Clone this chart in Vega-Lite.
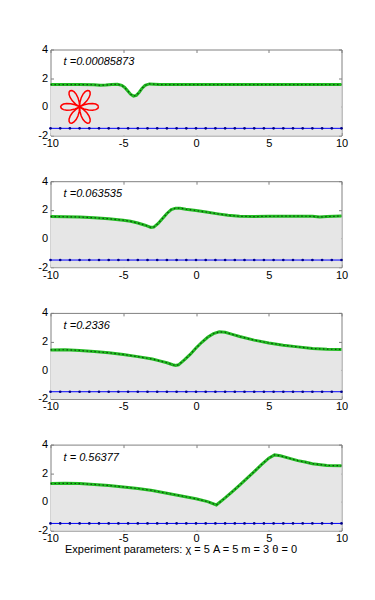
{
  "$schema": "https://vega.github.io/schema/vega-lite/v6.json",
  "background": "white",
  "padding": {"left": 36.5, "top": 42.5, "right": 0, "bottom": 0},
  "config": {
    "view": {"stroke": "#808080", "strokeWidth": 1},
    "axis": {"labelFont": "Liberation Sans", "labelFontSize": 11, "labelColor": "#000000", "tickColor": "#808080", "domain": false, "grid": false, "labelFlush": false, "labelOverlap": false, "tickSize": -3, "labelExpr": "toString(datum.value)"},
    "text": {"font": "Liberation Sans"}
  },
  "datasets": {
    "surf": [
      {"p": 1, "x": -10, "y": 1.55}, {"p": 1, "x": -8, "y": 1.55}, {"p": 1, "x": -7, "y": 1.54}, {"p": 1, "x": -6.6, "y": 1.5}, {"p": 1, "x": -6.2, "y": 1.52}, {"p": 1, "x": -5.8, "y": 1.56}, {"p": 1, "x": -5.4, "y": 1.57}, {"p": 1, "x": -5.1, "y": 1.5}, {"p": 1, "x": -4.9, "y": 1.35}, {"p": 1, "x": -4.7, "y": 1.12}, {"p": 1, "x": -4.5, "y": 0.88}, {"p": 1, "x": -4.3, "y": 0.75}, {"p": 1, "x": -4.1, "y": 0.8}, {"p": 1, "x": -3.9, "y": 1.02}, {"p": 1, "x": -3.7, "y": 1.3}, {"p": 1, "x": -3.5, "y": 1.5}, {"p": 1, "x": -3.2, "y": 1.6}, {"p": 1, "x": -2.9, "y": 1.58}, {"p": 1, "x": -2.5, "y": 1.55}, {"p": 1, "x": 0, "y": 1.55}, {"p": 1, "x": 5, "y": 1.55}, {"p": 1, "x": 10, "y": 1.55},
      {"p": 2, "x": -10, "y": 1.53}, {"p": 2, "x": -9, "y": 1.52}, {"p": 2, "x": -8, "y": 1.5}, {"p": 2, "x": -7, "y": 1.45}, {"p": 2, "x": -6, "y": 1.38}, {"p": 2, "x": -5, "y": 1.28}, {"p": 2, "x": -4.5, "y": 1.2}, {"p": 2, "x": -4, "y": 1.08}, {"p": 2, "x": -3.5, "y": 0.93}, {"p": 2, "x": -3.1, "y": 0.78}, {"p": 2, "x": -2.9, "y": 0.8}, {"p": 2, "x": -2.6, "y": 1.05}, {"p": 2, "x": -2.3, "y": 1.4}, {"p": 2, "x": -2.0, "y": 1.75}, {"p": 2, "x": -1.7, "y": 2.02}, {"p": 2, "x": -1.4, "y": 2.12}, {"p": 2, "x": -1.1, "y": 2.12}, {"p": 2, "x": -0.7, "y": 2.05}, {"p": 2, "x": 0, "y": 1.95}, {"p": 2, "x": 0.7, "y": 1.85}, {"p": 2, "x": 1.5, "y": 1.72}, {"p": 2, "x": 2.2, "y": 1.62}, {"p": 2, "x": 3, "y": 1.55}, {"p": 2, "x": 4, "y": 1.53}, {"p": 2, "x": 5, "y": 1.55}, {"p": 2, "x": 6, "y": 1.56}, {"p": 2, "x": 7, "y": 1.56}, {"p": 2, "x": 8, "y": 1.55}, {"p": 2, "x": 8.5, "y": 1.5}, {"p": 2, "x": 9, "y": 1.53}, {"p": 2, "x": 10, "y": 1.57},
      {"p": 3, "x": -10, "y": 1.42}, {"p": 3, "x": -9, "y": 1.43}, {"p": 3, "x": -8, "y": 1.38}, {"p": 3, "x": -7, "y": 1.3}, {"p": 3, "x": -6, "y": 1.22}, {"p": 3, "x": -5, "y": 1.1}, {"p": 3, "x": -4, "y": 0.95}, {"p": 3, "x": -3, "y": 0.78}, {"p": 3, "x": -2.5, "y": 0.65}, {"p": 3, "x": -2, "y": 0.52}, {"p": 3, "x": -1.6, "y": 0.38}, {"p": 3, "x": -1.4, "y": 0.33}, {"p": 3, "x": -1.2, "y": 0.38}, {"p": 3, "x": -0.8, "y": 0.72}, {"p": 3, "x": -0.4, "y": 1.1}, {"p": 3, "x": 0, "y": 1.55}, {"p": 3, "x": 0.4, "y": 1.95}, {"p": 3, "x": 0.8, "y": 2.3}, {"p": 3, "x": 1.2, "y": 2.55}, {"p": 3, "x": 1.6, "y": 2.68}, {"p": 3, "x": 2.0, "y": 2.65}, {"p": 3, "x": 2.5, "y": 2.5}, {"p": 3, "x": 3, "y": 2.35}, {"p": 3, "x": 4, "y": 2.1}, {"p": 3, "x": 5, "y": 1.9}, {"p": 3, "x": 6, "y": 1.75}, {"p": 3, "x": 7, "y": 1.63}, {"p": 3, "x": 8, "y": 1.52}, {"p": 3, "x": 9, "y": 1.47}, {"p": 3, "x": 10, "y": 1.45},
      {"p": 4, "x": -10, "y": 1.28}, {"p": 4, "x": -9, "y": 1.3}, {"p": 4, "x": -8, "y": 1.28}, {"p": 4, "x": -7, "y": 1.22}, {"p": 4, "x": -6, "y": 1.15}, {"p": 4, "x": -5, "y": 1.05}, {"p": 4, "x": -4, "y": 0.94}, {"p": 4, "x": -3, "y": 0.8}, {"p": 4, "x": -2, "y": 0.61}, {"p": 4, "x": -1, "y": 0.42}, {"p": 4, "x": 0, "y": 0.22}, {"p": 4, "x": 0.8, "y": 0.02}, {"p": 4, "x": 1.4, "y": -0.21}, {"p": 4, "x": 2, "y": 0.28}, {"p": 4, "x": 2.5, "y": 0.72}, {"p": 4, "x": 3, "y": 1.18}, {"p": 4, "x": 3.5, "y": 1.64}, {"p": 4, "x": 4, "y": 2.12}, {"p": 4, "x": 4.5, "y": 2.6}, {"p": 4, "x": 5, "y": 3.05}, {"p": 4, "x": 5.4, "y": 3.28}, {"p": 4, "x": 5.8, "y": 3.22}, {"p": 4, "x": 6.5, "y": 3.02}, {"p": 4, "x": 7, "y": 2.88}, {"p": 4, "x": 7.5, "y": 2.78}, {"p": 4, "x": 8, "y": 2.67}, {"p": 4, "x": 9, "y": 2.55}, {"p": 4, "x": 10, "y": 2.52}
    ],
    "bed": [
      {"x": -10, "y": -1.5}, {"x": -9.333, "y": -1.5}, {"x": -8.667, "y": -1.5}, {"x": -8, "y": -1.5}, {"x": -7.333, "y": -1.5}, {"x": -6.667, "y": -1.5}, {"x": -6, "y": -1.5}, {"x": -5.333, "y": -1.5}, {"x": -4.667, "y": -1.5}, {"x": -4, "y": -1.5}, {"x": -3.333, "y": -1.5}, {"x": -2.667, "y": -1.5}, {"x": -2, "y": -1.5}, {"x": -1.333, "y": -1.5}, {"x": -0.667, "y": -1.5}, {"x": 0, "y": -1.5}, {"x": 0.667, "y": -1.5}, {"x": 1.333, "y": -1.5}, {"x": 2, "y": -1.5}, {"x": 2.667, "y": -1.5}, {"x": 3.333, "y": -1.5}, {"x": 4, "y": -1.5}, {"x": 4.667, "y": -1.5}, {"x": 5.333, "y": -1.5}, {"x": 6, "y": -1.5}, {"x": 6.667, "y": -1.5}, {"x": 7.333, "y": -1.5}, {"x": 8, "y": -1.5}, {"x": 8.667, "y": -1.5}, {"x": 9.333, "y": -1.5}, {"x": 10, "y": -1.5}
    ],
    "flower": [
      {"i": 0, "x": -6.7, "y": 0}, {"i": 1, "x": -6.749, "y": 0.11}, {"i": 2, "x": -6.891, "y": 0.195}, {"i": 3, "x": -7.112, "y": 0.238}, {"i": 4, "x": -7.389, "y": 0.222}, {"i": 5, "x": -7.695, "y": 0.142}, {"i": 6, "x": -8, "y": 0},
      {"i": 7, "x": -7.725, "y": 0.193}, {"i": 8, "x": -7.502, "y": 0.418}, {"i": 9, "x": -7.35, "y": 0.65}, {"i": 10, "x": -7.276, "y": 0.863}, {"i": 11, "x": -7.28, "y": 1.029}, {"i": 12, "x": -7.35, "y": 1.126}, {"i": 13, "x": -7.469, "y": 1.138}, {"i": 14, "x": -7.615, "y": 1.058}, {"i": 15, "x": -7.762, "y": 0.888}, {"i": 16, "x": -7.887, "y": 0.64}, {"i": 17, "x": -7.971, "y": 0.335}, {"i": 18, "x": -8, "y": 0},
      {"i": 19, "x": -8.029, "y": 0.335}, {"i": 20, "x": -8.113, "y": 0.64}, {"i": 21, "x": -8.238, "y": 0.888}, {"i": 22, "x": -8.385, "y": 1.058}, {"i": 23, "x": -8.531, "y": 1.138}, {"i": 24, "x": -8.65, "y": 1.126}, {"i": 25, "x": -8.72, "y": 1.029}, {"i": 26, "x": -8.724, "y": 0.863}, {"i": 27, "x": -8.65, "y": 0.65}, {"i": 28, "x": -8.498, "y": 0.418}, {"i": 29, "x": -8.275, "y": 0.193}, {"i": 30, "x": -8, "y": 0},
      {"i": 31, "x": -8.305, "y": 0.142}, {"i": 32, "x": -8.611, "y": 0.222}, {"i": 33, "x": -8.888, "y": 0.238}, {"i": 34, "x": -9.109, "y": 0.195}, {"i": 35, "x": -9.251, "y": 0.11}, {"i": 36, "x": -9.3, "y": 0},
      {"i": 37, "x": -9.251, "y": -0.11}, {"i": 38, "x": -9.109, "y": -0.195}, {"i": 39, "x": -8.888, "y": -0.238}, {"i": 40, "x": -8.611, "y": -0.222}, {"i": 41, "x": -8.305, "y": -0.142}, {"i": 42, "x": -8, "y": 0},
      {"i": 43, "x": -8.275, "y": -0.193}, {"i": 44, "x": -8.498, "y": -0.418}, {"i": 45, "x": -8.65, "y": -0.65}, {"i": 46, "x": -8.724, "y": -0.863}, {"i": 47, "x": -8.72, "y": -1.029}, {"i": 48, "x": -8.65, "y": -1.126}, {"i": 49, "x": -8.531, "y": -1.138}, {"i": 50, "x": -8.385, "y": -1.058}, {"i": 51, "x": -8.238, "y": -0.888}, {"i": 52, "x": -8.113, "y": -0.64}, {"i": 53, "x": -8.029, "y": -0.335}, {"i": 54, "x": -8, "y": 0},
      {"i": 55, "x": -7.971, "y": -0.335}, {"i": 56, "x": -7.887, "y": -0.64}, {"i": 57, "x": -7.762, "y": -0.888}, {"i": 58, "x": -7.615, "y": -1.058}, {"i": 59, "x": -7.469, "y": -1.138}, {"i": 60, "x": -7.35, "y": -1.126}, {"i": 61, "x": -7.28, "y": -1.029}, {"i": 62, "x": -7.276, "y": -0.863}, {"i": 63, "x": -7.35, "y": -0.65}, {"i": 64, "x": -7.502, "y": -0.418}, {"i": 65, "x": -7.725, "y": -0.193}, {"i": 66, "x": -8, "y": 0},
      {"i": 67, "x": -7.695, "y": -0.142}, {"i": 68, "x": -7.389, "y": -0.222}, {"i": 69, "x": -7.112, "y": -0.238}, {"i": 70, "x": -6.891, "y": -0.195}, {"i": 71, "x": -6.749, "y": -0.11}, {"i": 72, "x": -6.7, "y": 0}
    ],
    "labels": [
      {"p": 1, "x": -9.1, "y": 3.1, "t": "t =0.00085873"},
      {"p": 2, "x": -9.1, "y": 3.1, "t": "t =0.063535"},
      {"p": 3, "x": -9.1, "y": 3.1, "t": "t =0.2336"},
      {"p": 4, "x": -9.1, "y": 3.1, "t": "t = 0.56377"}
    ]
  },
  "spacing": 45.7,
  "bounds": "flush",
  "vconcat": [
    {
      "width": 291, "height": 86,
      "resolve": {"axis": {"x": "independent", "y": "independent"}},
      "layer": [
        {"data": {"name": "surf"}, "transform": [{"filter": "datum.p == 1"}], "mark": {"type": "area", "color": "#e6e6e6"},
         "encoding": {"x": {"field": "x", "type": "quantitative", "scale": {"domain": [-10, 10], "nice": false}, "axis": {"orient": "bottom", "values": [-10, -5, 0, 5, 10], "labelPadding": 5, "title": null}},
                      "y": {"field": "y", "type": "quantitative", "scale": {"domain": [-2, 4], "nice": false, "zero": false}, "axis": {"orient": "left", "values": [-2, 0, 2, 4], "labelPadding": 6, "title": null}},
                      "y2": {"datum": -2}}},
        {"data": {"name": "bed"}, "mark": {"type": "line", "color": "#0000ff", "strokeWidth": 1},
         "encoding": {"x": {"field": "x", "type": "quantitative", "axis": {"orient": "top", "values": [-10, -5, 0, 5, 10], "labels": false, "title": null}},
                      "y": {"field": "y", "type": "quantitative", "axis": {"orient": "right", "values": [-2, 0, 2, 4], "labels": false, "title": null}}}},
        {"data": {"name": "bed"}, "mark": {"type": "point", "filled": true, "color": "#00008b", "size": 7, "opacity": 1},
         "encoding": {"x": {"field": "x", "type": "quantitative", "axis": null}, "y": {"field": "y", "type": "quantitative", "axis": null}}},
        {"data": {"name": "surf"}, "transform": [{"filter": "datum.p == 1"}], "mark": {"type": "line", "color": "#22bb22", "strokeWidth": 3},
         "encoding": {"x": {"field": "x", "type": "quantitative", "axis": null}, "y": {"field": "y", "type": "quantitative", "axis": null}}},
        {"data": {"name": "surf"}, "transform": [{"filter": "datum.p == 1"}], "mark": {"type": "line", "color": "#000000", "strokeWidth": 1.2, "strokeDash": [1.5, 2.5], "opacity": 0.6},
         "encoding": {"x": {"field": "x", "type": "quantitative", "axis": null}, "y": {"field": "y", "type": "quantitative", "axis": null}}},
        {"data": {"name": "flower"}, "mark": {"type": "line", "color": "#ff0000", "strokeWidth": 1.5},
         "encoding": {"x": {"field": "x", "type": "quantitative", "axis": null}, "y": {"field": "y", "type": "quantitative", "axis": null}, "order": {"field": "i", "type": "quantitative"}}},
        {"data": {"name": "labels"}, "transform": [{"filter": "datum.p == 1"}], "mark": {"type": "text", "align": "left", "baseline": "middle", "fontSize": 11, "fontStyle": "italic", "color": "#000000"},
         "encoding": {"x": {"field": "x", "type": "quantitative", "axis": null}, "y": {"field": "y", "type": "quantitative", "axis": null}, "text": {"field": "t"}}}
      ]
    },
    {
      "width": 291, "height": 86,
      "resolve": {"axis": {"x": "independent", "y": "independent"}},
      "layer": [
        {"data": {"name": "surf"}, "transform": [{"filter": "datum.p == 2"}], "mark": {"type": "area", "color": "#e6e6e6"},
         "encoding": {"x": {"field": "x", "type": "quantitative", "scale": {"domain": [-10, 10], "nice": false}, "axis": {"orient": "bottom", "values": [-10, -5, 0, 5, 10], "labelPadding": 5, "title": null}},
                      "y": {"field": "y", "type": "quantitative", "scale": {"domain": [-2, 4], "nice": false, "zero": false}, "axis": {"orient": "left", "values": [-2, 0, 2, 4], "labelPadding": 6, "title": null}},
                      "y2": {"datum": -2}}},
        {"data": {"name": "bed"}, "mark": {"type": "line", "color": "#0000ff", "strokeWidth": 1},
         "encoding": {"x": {"field": "x", "type": "quantitative", "axis": {"orient": "top", "values": [-10, -5, 0, 5, 10], "labels": false, "title": null}},
                      "y": {"field": "y", "type": "quantitative", "axis": {"orient": "right", "values": [-2, 0, 2, 4], "labels": false, "title": null}}}},
        {"data": {"name": "bed"}, "mark": {"type": "point", "filled": true, "color": "#00008b", "size": 7, "opacity": 1},
         "encoding": {"x": {"field": "x", "type": "quantitative", "axis": null}, "y": {"field": "y", "type": "quantitative", "axis": null}}},
        {"data": {"name": "surf"}, "transform": [{"filter": "datum.p == 2"}], "mark": {"type": "line", "color": "#22bb22", "strokeWidth": 3},
         "encoding": {"x": {"field": "x", "type": "quantitative", "axis": null}, "y": {"field": "y", "type": "quantitative", "axis": null}}},
        {"data": {"name": "surf"}, "transform": [{"filter": "datum.p == 2"}], "mark": {"type": "line", "color": "#000000", "strokeWidth": 1.2, "strokeDash": [1.5, 2.5], "opacity": 0.6},
         "encoding": {"x": {"field": "x", "type": "quantitative", "axis": null}, "y": {"field": "y", "type": "quantitative", "axis": null}}},
        {"data": {"name": "labels"}, "transform": [{"filter": "datum.p == 2"}], "mark": {"type": "text", "align": "left", "baseline": "middle", "fontSize": 11, "fontStyle": "italic", "color": "#000000"},
         "encoding": {"x": {"field": "x", "type": "quantitative", "axis": null}, "y": {"field": "y", "type": "quantitative", "axis": null}, "text": {"field": "t"}}}
      ]
    },
    {
      "width": 291, "height": 86,
      "resolve": {"axis": {"x": "independent", "y": "independent"}},
      "layer": [
        {"data": {"name": "surf"}, "transform": [{"filter": "datum.p == 3"}], "mark": {"type": "area", "color": "#e6e6e6"},
         "encoding": {"x": {"field": "x", "type": "quantitative", "scale": {"domain": [-10, 10], "nice": false}, "axis": {"orient": "bottom", "values": [-10, -5, 0, 5, 10], "labelPadding": 5, "title": null}},
                      "y": {"field": "y", "type": "quantitative", "scale": {"domain": [-2, 4], "nice": false, "zero": false}, "axis": {"orient": "left", "values": [-2, 0, 2, 4], "labelPadding": 6, "title": null}},
                      "y2": {"datum": -2}}},
        {"data": {"name": "bed"}, "mark": {"type": "line", "color": "#0000ff", "strokeWidth": 1},
         "encoding": {"x": {"field": "x", "type": "quantitative", "axis": {"orient": "top", "values": [-10, -5, 0, 5, 10], "labels": false, "title": null}},
                      "y": {"field": "y", "type": "quantitative", "axis": {"orient": "right", "values": [-2, 0, 2, 4], "labels": false, "title": null}}}},
        {"data": {"name": "bed"}, "mark": {"type": "point", "filled": true, "color": "#00008b", "size": 7, "opacity": 1},
         "encoding": {"x": {"field": "x", "type": "quantitative", "axis": null}, "y": {"field": "y", "type": "quantitative", "axis": null}}},
        {"data": {"name": "surf"}, "transform": [{"filter": "datum.p == 3"}], "mark": {"type": "line", "color": "#22bb22", "strokeWidth": 3},
         "encoding": {"x": {"field": "x", "type": "quantitative", "axis": null}, "y": {"field": "y", "type": "quantitative", "axis": null}}},
        {"data": {"name": "surf"}, "transform": [{"filter": "datum.p == 3"}], "mark": {"type": "line", "color": "#000000", "strokeWidth": 1.2, "strokeDash": [1.5, 2.5], "opacity": 0.6},
         "encoding": {"x": {"field": "x", "type": "quantitative", "axis": null}, "y": {"field": "y", "type": "quantitative", "axis": null}}},
        {"data": {"name": "labels"}, "transform": [{"filter": "datum.p == 3"}], "mark": {"type": "text", "align": "left", "baseline": "middle", "fontSize": 11, "fontStyle": "italic", "color": "#000000"},
         "encoding": {"x": {"field": "x", "type": "quantitative", "axis": null}, "y": {"field": "y", "type": "quantitative", "axis": null}, "text": {"field": "t"}}}
      ]
    },
    {
      "width": 291, "height": 86,
      "resolve": {"axis": {"x": "independent", "y": "independent"}},
      "layer": [
        {"data": {"name": "surf"}, "transform": [{"filter": "datum.p == 4"}], "mark": {"type": "area", "color": "#e6e6e6"},
         "encoding": {"x": {"field": "x", "type": "quantitative", "scale": {"domain": [-10, 10], "nice": false}, "axis": {"orient": "bottom", "values": [-10, -5, 0, 5, 10], "labelPadding": 5, "title": "Experiment parameters: χ = 5 A = 5 m = 3 θ = 0", "titleFont": "Liberation Sans", "titleFontSize": 11, "titleFontWeight": "normal", "titleColor": "#000000", "titlePadding": 0, "titleX": 130}},
                      "y": {"field": "y", "type": "quantitative", "scale": {"domain": [-2, 4], "nice": false, "zero": false}, "axis": {"orient": "left", "values": [-2, 0, 2, 4], "labelPadding": 6, "title": null}},
                      "y2": {"datum": -2}}},
        {"data": {"name": "bed"}, "mark": {"type": "line", "color": "#0000ff", "strokeWidth": 1},
         "encoding": {"x": {"field": "x", "type": "quantitative", "axis": {"orient": "top", "values": [-10, -5, 0, 5, 10], "labels": false, "title": null}},
                      "y": {"field": "y", "type": "quantitative", "axis": {"orient": "right", "values": [-2, 0, 2, 4], "labels": false, "title": null}}}},
        {"data": {"name": "bed"}, "mark": {"type": "point", "filled": true, "color": "#00008b", "size": 7, "opacity": 1},
         "encoding": {"x": {"field": "x", "type": "quantitative", "axis": null}, "y": {"field": "y", "type": "quantitative", "axis": null}}},
        {"data": {"name": "surf"}, "transform": [{"filter": "datum.p == 4"}], "mark": {"type": "line", "color": "#22bb22", "strokeWidth": 3},
         "encoding": {"x": {"field": "x", "type": "quantitative", "axis": null}, "y": {"field": "y", "type": "quantitative", "axis": null}}},
        {"data": {"name": "surf"}, "transform": [{"filter": "datum.p == 4"}], "mark": {"type": "line", "color": "#000000", "strokeWidth": 1.2, "strokeDash": [1.5, 2.5], "opacity": 0.6},
         "encoding": {"x": {"field": "x", "type": "quantitative", "axis": null}, "y": {"field": "y", "type": "quantitative", "axis": null}}},
        {"data": {"name": "labels"}, "transform": [{"filter": "datum.p == 4"}], "mark": {"type": "text", "align": "left", "baseline": "middle", "fontSize": 11, "fontStyle": "italic", "color": "#000000"},
         "encoding": {"x": {"field": "x", "type": "quantitative", "axis": null}, "y": {"field": "y", "type": "quantitative", "axis": null}, "text": {"field": "t"}}}
      ]
    }
  ]
}
